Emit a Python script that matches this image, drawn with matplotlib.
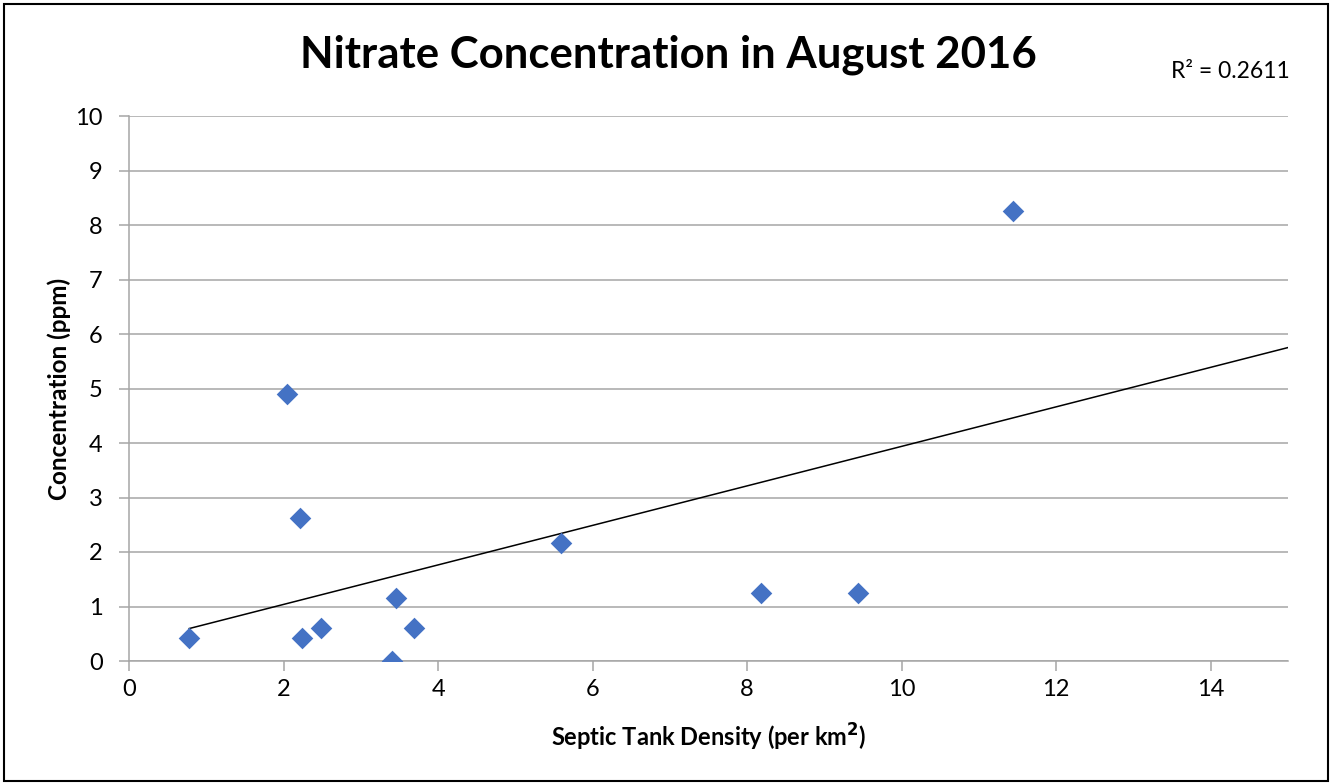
import matplotlib
matplotlib.use("Agg")
import matplotlib.pyplot as plt
import numpy as np

plt.rcParams['font.family'] = ['Lato', 'DejaVu Sans']

density = [0.78, 2.04, 2.21, 2.24, 2.48, 3.40, 3.45, 3.69, 5.59, 8.18, 9.43, 11.44]
nitrate = [0.42, 4.90, 2.62, 0.42, 0.61, 0.00, 1.16, 0.61, 2.17, 1.25, 1.25, 8.26]
x_ticks = [0, 2, 4, 6, 8, 10, 12, 14]
y_ticks = list(range(0, 11))
r2_text = "R² = 0.2611"

fig = plt.figure(figsize=(13.32, 7.83), dpi=100)
ax = fig.add_axes([129/1332, 1-661/783, (1288-129)/1332, (661-116)/783])

ax.scatter(density, nitrate, marker='D', s=11**2, color='#4472C4', zorder=3, linewidths=0)

coef = np.polyfit(density, nitrate, 1)
xl = np.array([min(density), 15])
ax.plot(xl, np.polyval(coef, xl), color='black', lw=1.1, zorder=2)

ax.set_xlim(0, 15)
ax.set_ylim(0, 10)
ax.set_xticks(x_ticks)
ax.set_yticks(y_ticks)
ax.grid(axis='y', color='#A6A6A6', lw=1.1)
ax.set_axisbelow(True)
for s in ['top', 'right']:
    ax.spines[s].set_visible(False)
for s in ['left', 'bottom']:
    ax.spines[s].set_color('#A6A6A6')
    ax.spines[s].set_linewidth(1.1)
ax.tick_params(axis='both', length=7, color='#A6A6A6', width=1.1, labelsize=17)
ax.tick_params(axis='y', pad=12)
ax.tick_params(axis='x', pad=6)

ax.set_xlabel('Septic Tank Density (per km$^\\mathbf{2}$)', fontsize=17, fontweight='bold', labelpad=16)
ax.set_ylabel('Concentration (ppm)', fontsize=17.5, fontweight='bold', labelpad=3)

fig.text(668/1332, 1-55/783, 'Nitrate Concentration in August 2016', ha='center', va='center',
         fontsize=31.5, fontweight='bold')
fig.text(1290/1332, 1-71/783, r2_text, ha='right', va='center', fontsize=16.5)

fig.patches.append(plt.Rectangle((4/1332, 2/783), 1-8/1332, 1-6/783, transform=fig.transFigure,
                                 fill=False, edgecolor='black', lw=1.5))

fig.savefig('out.png', dpi=100)
